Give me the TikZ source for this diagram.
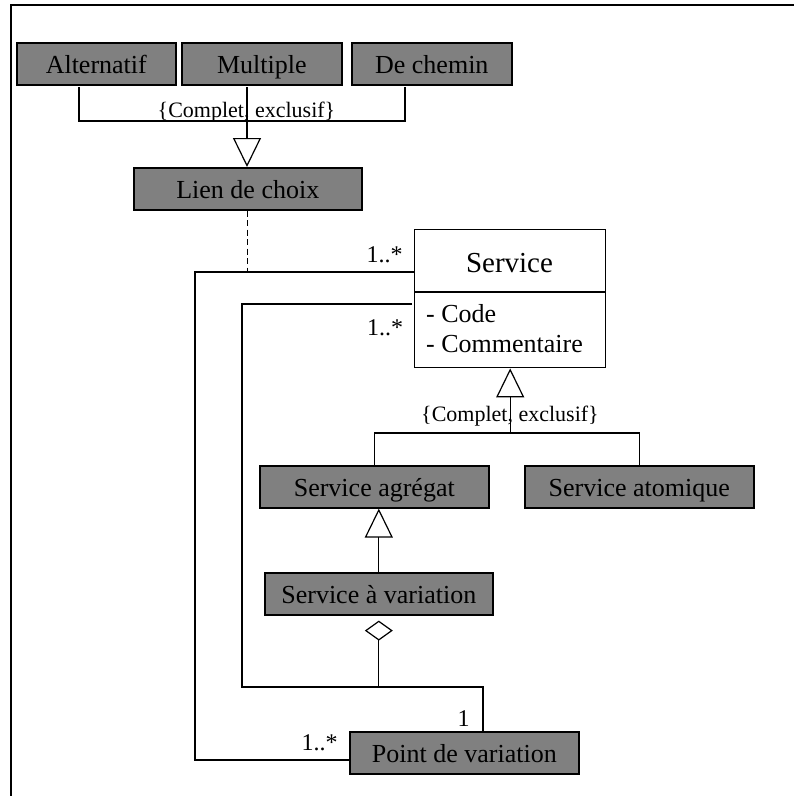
\documentclass[tikz,border=0pt]{standalone}
\usepackage{fontspec}
\setmainfont{Liberation Serif}
\usetikzlibrary{arrows.meta}
\definecolor{boxgray}{RGB}{128,128,128}
\begin{document}
\begin{tikzpicture}[x=1pt,y=-1pt,
  cls/.style={draw=black, line width=1.6pt, fill=boxgray, inner sep=0pt,
    minimum height=42pt, text height=22pt, text depth=2pt,
    anchor=north west, font=\fontsize{26}{30}\selectfont},
  lnk/.style={line width=1.2pt},
  mult/.style={inner sep=0pt, anchor=base, font=\fontsize{24}{28}\selectfont},
  cstr/.style={inner sep=0pt, anchor=base, font=\fontsize{22}{26}\selectfont},
  attr/.style={inner sep=0pt, anchor=base west, font=\fontsize{26}{30}\selectfont},
  gen/.style={lnk, -{Triangle[open, length=29pt, width=28pt]}},
]
\useasboundingbox (0,0) rectangle (794,796);

% frame
\draw[line width=2pt] (11,796) -- (11,5) -- (794,5);

% classes
\node[cls, minimum width=159pt] (alt)  at (16,42)  {Alternatif};
\node[cls, minimum width=160pt] (mul)  at (181,42) {Multiple};
\node[cls, minimum width=160pt] (dech) at (351,42) {De chemin};
\node[cls, minimum width=228pt] (lien) at (133,167) {Lien de choix};

\node[draw, line width=1.4pt, fill=white, inner sep=0pt, minimum width=191pt,
      minimum height=138pt, anchor=north west] (service) at (414,229) {};
\coordinate (sdiv) at (414,292);
\draw[line width=1.4pt] (sdiv) -- (sdiv -| service.east);
\node[inner sep=0pt, anchor=base, font=\fontsize{29}{34}\selectfont] (stitle) at (509.5,272) {Service};
\node[attr] (scode) at (426,322) {- Code};
\node[attr] (scomm) at (426,352) {- Commentaire};

\node[cls, minimum width=229pt] (agr) at (259,465) {Service agrégat};
\node[cls, minimum width=229pt] (ato) at (524,465) {Service atomique};
\node[cls, minimum width=228pt] (var) at (264,572) {Service à variation};
\node[cls, minimum width=229pt] (pv)  at (349,731) {Point de variation};

% generalization of the choice link
\coordinate (g1)  at (247,121);
\coordinate (g1l) at (79,87);
\coordinate (g1r) at (405,87);
\coordinate (g1m) at (247,87);
\draw[lnk] (g1l) -- (g1l |- g1) -- (g1r |- g1) -- (g1r);
\draw[gen] (g1m) -- (g1m |- lien.north);
\node[cstr] (c1) at (246.5,117) {\{Complet, exclusif\}};

% association class link
\coordinate (a1)  at (195,272);
\coordinate (a1b) at (195,760);
\draw[lnk, dash pattern=on 6pt off 3.5pt] (lien.south) -- (lien.south |- a1);
\draw[lnk] (service.west |- a1) -- (a1) -- (a1b) -- (a1b -| pv.west);

% second association
\coordinate (a2)  at (242,304);
\coordinate (a2b) at (242,687);
\coordinate (a2c) at (483,687);
\draw[lnk] ([xshift=-2pt]service.west |- a2) -- (a2) -- (a2b) -- (a2c) -- (a2c |- pv.north);

% aggregation
\coordinate (dtop) at ([yshift=-5pt]var.south);
\draw[lnk, {Diamond[open, length=20pt, width=28pt]}-] (dtop) -- (dtop |- a2b);

% generalization of service
\coordinate (g2) at (service.south |- 0,433);
\draw[lnk] (agr.north) -- (agr.north |- g2) -- (ato.north |- g2) -- (ato.north);
\draw[gen] (g2) -- (service.south);
\node[cstr] (c2) at (510,421) {\{Complet, exclusif\}};

\draw[gen] (var.north) -- (var.north |- agr.south);

% multiplicities
\node[mult] (m1) at (384.5,262) {1..*};
\node[mult] (m2) at (385,335) {1..*};
\node[mult] (m3) at (319.5,750) {1..*};
\node[mult] (m4) at (463.5,726) {1};
\end{tikzpicture}
\end{document}
